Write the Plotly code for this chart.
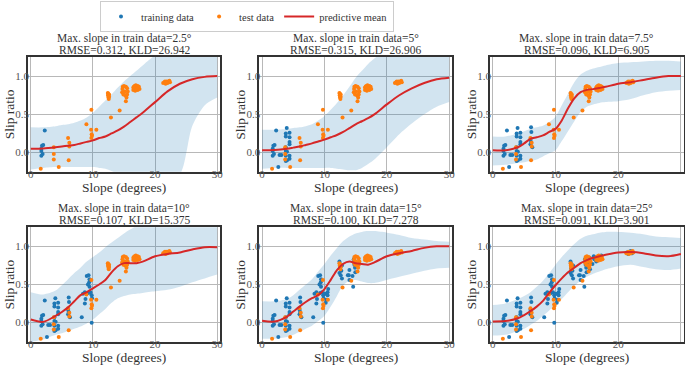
import plotly.graph_objects as go

# ---------------- data ----------------
train_x = [1.7, 1.8, 2.0, 1.7, 1.7, 1.9, 2.25,
           2.6, 2.8, 3.1, 3.95, 3.8, 4.4, 3.8, 4.4, 4.4, 4.4, 3.8, 3.8, 4.0, 3.8, 4.4, 3.8, 4.0, 4.4,
           6.1, 6.15, 6.0, 6.0, 6.1, 6.3,
           8.2, 8.4, 8.7, 9.0, 9.3, 9.45, 9.4, 9.2, 9.45, 8.7, 9.6, 9.8, 9.8, 9.85, 8.8, 9.3,
           10.1, 10.5, 10.5, 10.3, 10.6, 10.2,
           12.4, 12.5, 12.6, 12.5, 12.7, 12.4, 12.6, 12.8, 12.8, 13.9, 14.0, 14.6, 14.5, 14.0, 13.75,
           14.95, 14.9, 14.8, 14.9, 14.7,
           15.2, 15.5, 15.9, 16.1, 16.5, 16.6, 17.0, 17.3, 15.4, 16.2,
           21.4, 21.8, 22.2, 22.0, 21.6]
train_y = [0.05, 0.09, 0.10, 0.02, -0.04, -0.02, 0.29,
           -0.19, -0.03, -0.03, 0.32, 0.25, 0.26, 0.21, 0.20, 0.14, 0.11, 0.07, 0.02, 0.01, -0.04, -0.04, -0.11, -0.10, -0.08,
           0.33, 0.27, 0.17, 0.11, 0.14, 0.07,
           0.07, 0.38, 0.40, 0.61, 0.62, 0.57, 0.53, 0.50, 0.47, 0.25, 0.40, 0.36, 0.00, 0.32, 0.31, 0.39,
           0.38, 0.36, 0.40, 0.30, 0.44, 0.26,
           0.80, 0.77, 0.74, 0.71, 0.68, 0.65, 0.62, 0.75, 0.58, 0.62, 0.56, 0.47, 0.61, 0.69, 0.62,
           0.66, 0.72, 0.76, 0.80, 0.83,
           0.78, 0.70, 0.77, 0.87, 0.80, 0.86, 0.86, 0.88, 0.85, 0.83,
           0.92, 0.93, 0.91, 0.94, 0.90]

test_x = [1.6, 3.7, 3.7, 3.7, 4.5, 6.0, 6.2, 6.2, 6.1, 8.95, 9.7, 9.8, 9.85, 9.75, 10.55, 9.75, 12.9, 14.3,
          12.4, 12.45, 12.5, 12.6, 12.55, 12.45, 12.6, 12.5,
          14.8, 15.0, 15.3, 15.5, 15.6, 15.5, 15.2, 14.9, 14.7, 14.75, 15.4, 15.3, 15.1,
          16.5, 16.7, 16.9, 17.2, 17.4, 17.5, 17.2, 16.8, 16.5, 17.0, 16.6,
          21.3, 21.5, 21.7, 21.9, 22.1, 22.3, 22.4, 21.6, 22.0, 21.8]
test_y = [-0.21, 0.07, -0.02, -0.09, -0.19, 0.19, 0.13, 0.08, -0.10, 0.37, 0.30, 0.24, 0.22, 0.19, 0.30, 0.56, 0.46, 0.55,
          0.78, 0.75, 0.72, 0.73, 0.70, 0.77, 0.76, 0.74,
          0.86, 0.87, 0.86, 0.84, 0.80, 0.76, 0.75, 0.76, 0.79, 0.83, 0.72, 0.67, 0.80,
          0.85, 0.87, 0.88, 0.87, 0.86, 0.83, 0.82, 0.81, 0.82, 0.84, 0.86,
          0.91, 0.92, 0.90, 0.93, 0.92, 0.94, 0.92, 0.93, 0.91, 0.92]

max_slopes = [2.5, 5, 7.5, 10, 15, 25]
slope_labels = ["2.5", "5", "7.5", "10", "15", "25"]
rmse_values = ["0.312", "0.315", "0.096", "0.107", "0.100", "0.091"]
kld_values = ["26.942", "26.906", "6.905", "15.375", "7.278", "3.901"]

# slope grid on which the predictive mean and band are read
grid_x = [0, 2, 4, 5, 6, 7, 8, 9, 10, 11, 12, 13, 14, 15, 16, 17, 18, 20, 22, 24, 26, 28, 30]

mean_1 = [0.05, 0.055, 0.07, 0.08, 0.09, 0.10, 0.12, 0.14, 0.16, 0.19, 0.21, 0.25, 0.29, 0.34, 0.40, 0.46, 0.52, 0.66, 0.80, 0.90, 0.96, 0.99, 1.00]
upper_1 = [0.33, 0.33, 0.345, 0.36, 0.37, 0.39, 0.42, 0.46, 0.52, 0.60, 0.68, 0.76, 0.85, 0.93, 1.00, 1.07, 1.14, 1.27, 1.34, 1.38, 1.40, 1.41, 1.40]
lower_1 = [-0.22, -0.20, -0.19, -0.19, -0.19, -0.19, -0.19, -0.19, -0.19, -0.20, -0.21, -0.24, -0.28, -0.32, -0.36, -0.38, -0.38, -0.36, -0.32, -0.28, 0.35, 0.62, 0.72]

mean_2 = [0.03, 0.033, 0.05, 0.065, 0.08, 0.10, 0.12, 0.145, 0.17, 0.20, 0.23, 0.27, 0.32, 0.37, 0.41, 0.45, 0.50, 0.63, 0.75, 0.84, 0.91, 0.96, 0.98]
upper_2 = [0.30, 0.30, 0.31, 0.32, 0.33, 0.345, 0.37, 0.42, 0.48, 0.56, 0.65, 0.75, 0.86, 0.98, 1.07, 1.16, 1.23, 1.35, 1.42, 1.45, 1.45, 1.45, 1.45]
lower_2 = [-0.21, -0.20, -0.20, -0.20, -0.20, -0.20, -0.20, -0.20, -0.20, -0.20, -0.21, -0.22, -0.23, -0.23, -0.20, -0.15, -0.09, 0.07, 0.24, 0.38, 0.50, 0.60, 0.66]

mean_3 = [0.03, 0.03, 0.07, 0.12, 0.18, 0.20, 0.225, 0.27, 0.31, 0.42, 0.58, 0.71, 0.79, 0.82, 0.83, 0.845, 0.86, 0.90, 0.92, 0.95, 0.98, 1.00, 1.00]
upper_3 = [0.21, 0.21, 0.25, 0.28, 0.31, 0.33, 0.35, 0.40, 0.47, 0.62, 0.77, 0.92, 1.02, 1.07, 1.10, 1.12, 1.14, 1.17, 1.18, 1.19, 1.20, 1.20, 1.19]
lower_3 = [-0.17, -0.16, -0.135, -0.125, -0.11, -0.09, -0.05, -0.01, 0.03, 0.15, 0.28, 0.41, 0.53, 0.60, 0.63, 0.65, 0.66, 0.67, 0.70, 0.75, 0.79, 0.81, 0.82]

mean_4 = [0.04, 0.01, 0.09, 0.14, 0.20, 0.28, 0.36, 0.40, 0.45, 0.50, 0.56, 0.66, 0.74, 0.78, 0.78, 0.78, 0.80, 0.87, 0.90, 0.92, 0.96, 0.99, 0.99]
upper_4 = [0.40, 0.37, 0.42, 0.49, 0.57, 0.65, 0.72, 0.80, 0.86, 0.92, 0.99, 1.05, 1.11, 1.17, 1.22, 1.27, 1.31, 1.35, 1.35, 1.35, 1.35, 1.35, 1.35]
lower_4 = [-0.25, -0.22, -0.16, -0.14, -0.11, -0.08, -0.05, -0.01, 0.04, 0.11, 0.18, 0.26, 0.32, 0.35, 0.37, 0.38, 0.39, 0.41, 0.43, 0.47, 0.53, 0.58, 0.63]

mean_5 = [0.025, 0.015, 0.08, 0.145, 0.21, 0.27, 0.32, 0.36, 0.44, 0.56, 0.69, 0.77, 0.80, 0.78, 0.77, 0.76, 0.79, 0.87, 0.91, 0.94, 0.98, 1.00, 1.00]
upper_5 = [0.28, 0.28, 0.31, 0.36, 0.43, 0.50, 0.57, 0.67, 0.77, 0.88, 0.98, 1.07, 1.13, 1.17, 1.19, 1.20, 1.20, 1.18, 1.15, 1.11, 1.09, 1.07, 1.06]
lower_5 = [-0.21, -0.21, -0.19, -0.16, -0.12, -0.08, -0.04, 0.02, 0.09, 0.21, 0.35, 0.49, 0.55, 0.56, 0.54, 0.52, 0.52, 0.56, 0.60, 0.64, 0.68, 0.71, 0.72]

mean_6 = [0.015, 0.02, 0.057, 0.10, 0.15, 0.21, 0.285, 0.39, 0.49, 0.58, 0.66, 0.72, 0.78, 0.82, 0.85, 0.87, 0.89, 0.92, 0.925, 0.91, 0.88, 0.87, 0.90]
upper_6 = [0.23, 0.25, 0.31, 0.35, 0.40, 0.47, 0.55, 0.65, 0.76, 0.86, 0.95, 1.03, 1.10, 1.14, 1.16, 1.18, 1.19, 1.19, 1.18, 1.16, 1.13, 1.12, 1.11]
lower_6 = [-0.17, -0.16, -0.11, -0.08, -0.03, 0.02, 0.09, 0.16, 0.23, 0.31, 0.40, 0.48, 0.55, 0.60, 0.64, 0.67, 0.70, 0.74, 0.76, 0.73, 0.70, 0.69, 0.71]

means = [mean_1, mean_2, mean_3, mean_4, mean_5, mean_6]
uppers = [upper_1, upper_2, upper_3, upper_4, upper_5, upper_6]
lowers = [lower_1, lower_2, lower_3, lower_4, lower_5, lower_6]

# ---------------- layout geometry (pixels) ----------------
W, H = 685, 366
col_px = [(28, 220), (259.3, 452), (490, 683.7)]
row_px = [(57, 171.7), (227.3, 341.7)]

BLUE = "#1f77b4"
ORANGE = "#ff7f0e"
RED = "#d62728"
BAND = "rgba(31,119,180,0.2)"
FONT = "'Liberation Serif', 'Times New Roman', 'DejaVu Serif', serif"

fig = go.Figure()
annotations = []
layout_axes = {}

for i in range(6):
    r, c = divmod(i, 3)
    n = "" if i == 0 else str(i + 1)
    xa, ya = "x" + n, "y" + n
    ms = max_slopes[i]
    tx = [x for x, y in zip(train_x, train_y) if x <= ms]
    ty = [y for x, y in zip(train_x, train_y) if x <= ms]

    fig.add_trace(go.Scatter(x=grid_x, y=lowers[i], mode="lines", line=dict(width=0, shape="spline", smoothing=0.8),
                             hoverinfo="skip", showlegend=False, xaxis=xa, yaxis=ya))
    fig.add_trace(go.Scatter(x=grid_x, y=uppers[i], mode="lines", line=dict(width=0, shape="spline", smoothing=0.8),
                             fill="tonexty", fillcolor=BAND, hoverinfo="skip", showlegend=False,
                             xaxis=xa, yaxis=ya))
    fig.add_trace(go.Scatter(x=tx, y=ty, mode="markers", name="training data",
                             marker=dict(color=BLUE, size=4), showlegend=(i == 0),
                             xaxis=xa, yaxis=ya))
    fig.add_trace(go.Scatter(x=test_x, y=test_y, mode="markers", name="test data",
                             marker=dict(color=ORANGE, size=4), showlegend=(i == 0),
                             xaxis=xa, yaxis=ya))
    fig.add_trace(go.Scatter(x=grid_x, y=means[i], mode="lines", name="predictive mean",
                             line=dict(color=RED, width=2, shape="spline", smoothing=0.8), showlegend=(i == 0),
                             xaxis=xa, yaxis=ya))

    x0, x1 = col_px[c]
    y0, y1 = row_px[r]
    dx = [x0 / W, x1 / W]
    dy = [1 - y1 / H, 1 - y0 / H]
    common = dict(showgrid=True, gridcolor="#b8b8b8", gridwidth=1, zeroline=False,
                  showline=True, linecolor="#333333", linewidth=1.5, mirror=True,
                  ticks="", automargin=False,
                  tickfont=dict(family=FONT, size=11, color="#555555"))
    layout_axes["xaxis" + n] = dict(domain=dx, range=[-0.45, 30.45], tickvals=[0, 10, 20, 30],
                                    anchor=ya, ticklabelstandoff=-9, **common)
    layout_axes["yaxis" + n] = dict(domain=dy, range=[-0.25, 1.25], tickvals=[0, 0.5, 1.0],
                                    tickformat=".1f", anchor=xa, ticklabelstandoff=-5, **common)

    cx = (x0 + x1) / 2
    t1 = y0 - 18.5
    t2 = y0 - 6.5
    annotations.append(dict(text="Max. slope in train data=%s°" % slope_labels[i], x=cx / W, y=1 - t1 / H,
                            xref="paper", yref="paper", showarrow=False, xanchor="center", yanchor="middle",
                            font=dict(family=FONT, size=11.5, color="#333333")))
    annotations.append(dict(text="RMSE=%s, KLD=%s" % (rmse_values[i], kld_values[i]), x=cx / W, y=1 - t2 / H,
                            xref="paper", yref="paper", showarrow=False, xanchor="center", yanchor="middle",
                            font=dict(family=FONT, size=11.5, color="#333333")))
    annotations.append(dict(text="Slope (degrees)", x=cx / W, y=1 - (y1 + 16) / H,
                            xref="paper", yref="paper", showarrow=False, xanchor="center", yanchor="middle",
                            font=dict(family=FONT, size=13.5, color="#333333")))
    annotations.append(dict(text="Slip ratio", x=(x0 - 19) / W, y=1 - ((y0 + y1) / 2) / H,
                            xref="paper", yref="paper", showarrow=False, xanchor="center", yanchor="middle",
                            textangle=-90, font=dict(family=FONT, size=13.5, color="#333333")))

fig.update_layout(
    width=W, height=H,
    margin=dict(l=0, r=0, t=0, b=0),
    paper_bgcolor="white", plot_bgcolor="white",
    annotations=annotations,
    legend=dict(orientation="h", x=100 / W, y=1 - 1 / H, xanchor="left", yanchor="top",
                traceorder="normal",
                font=dict(family=FONT, size=10.5, color="#333333"),
                bordercolor="#cccccc", borderwidth=1, bgcolor="white"),
    **layout_axes,
)

fig.write_html("out.html", config={"displayModeBar": False},
               post_script="document.body.style.margin='0px';")
